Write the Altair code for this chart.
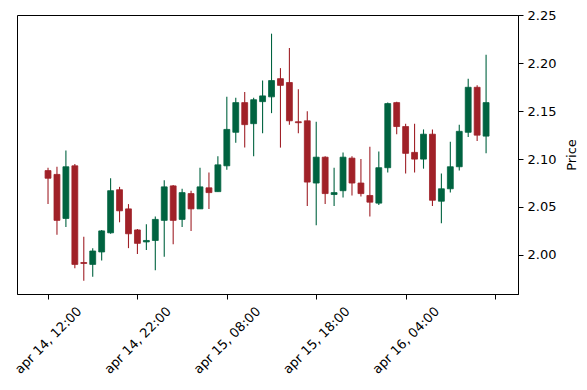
import altair as alt
import pandas as pd

# OHLC values (hourly candles, index 0..49)
opens  = [2.088, 2.084, 2.038, 2.093, 1.992, 1.990, 2.003, 2.023, 2.068, 2.048,
          2.026, 2.0135, 2.015, 2.036, 2.072, 2.037, 2.064, 2.048, 2.070, 2.066,
          2.093, 2.128, 2.159, 2.137, 2.160, 2.165, 2.184, 2.180, 2.139, 2.140,
          2.075, 2.102, 2.063, 2.067, 2.101, 2.075, 2.062, 2.054, 2.091, 2.159,
          2.134, 2.107, 2.100, 2.126, 2.056, 2.069, 2.092, 2.128, 2.175, 2.124]
highs  = [2.091, 2.092, 2.109, 2.095, 2.019, 2.007, 2.026, 2.080, 2.071, 2.053,
          2.027, 2.032, 2.040, 2.078, 2.073, 2.069, 2.067, 2.091, 2.086, 2.103,
          2.165, 2.164, 2.170, 2.164, 2.182, 2.231, 2.195, 2.216, 2.173, 2.150,
          2.139, 2.103, 2.091, 2.107, 2.103, 2.100, 2.113, 2.108, 2.159, 2.160,
          2.137, 2.137, 2.131, 2.131, 2.085, 2.118, 2.136, 2.184, 2.177, 2.209]
lows   = [2.053, 2.021, 2.029, 1.986, 1.973, 1.977, 1.994, 2.022, 2.034, 2.007,
          2.001, 2.005, 1.984, 1.998, 2.011, 2.029, 2.025, 2.048, 2.048, 2.066,
          2.089, 2.117, 2.112, 2.103, 2.127, 2.148, 2.112, 2.136, 2.127, 2.051,
          2.031, 2.053, 2.051, 2.060, 2.062, 2.061, 2.040, 2.052, 2.086, 2.126,
          2.085, 2.086, 2.090, 2.051, 2.033, 2.065, 2.088, 2.123, 2.119, 2.106]
closes = [2.080, 2.036, 2.092, 1.990, 1.991, 2.004, 2.025, 2.067, 2.046, 2.022,
          2.012, 2.015, 2.037, 2.071, 2.036, 2.065, 2.048, 2.071, 2.065, 2.094,
          2.131, 2.159, 2.136, 2.162, 2.166, 2.182, 2.177, 2.140, 2.138, 2.076,
          2.102, 2.064, 2.065, 2.102, 2.075, 2.064, 2.055, 2.091, 2.158, 2.134,
          2.106, 2.100, 2.126, 2.057, 2.069, 2.092, 2.129, 2.175, 2.125, 2.159]

tick_positions = [0, 10, 20, 30, 40, 50]
tick_labels = ["apr 14, 12:00", "apr 14, 22:00", "apr 15, 08:00",
               "apr 15, 18:00", "apr 16, 04:00", ""]
price_ticks = [2.00, 2.05, 2.10, 2.15, 2.20, 2.25]

UP, DOWN = "#006340", "#a02128"

df = pd.DataFrame({
    "i": list(range(len(opens))),
    "open": opens, "high": highs, "low": lows, "close": closes,
})
df["dir"] = ["up" if c >= o else "down" for o, c in zip(opens, closes)]

xscale = alt.Scale(domain=[-3.47, 52.57], nice=False, zero=False)
yscale = alt.Scale(domain=[1.9591, 2.2505], nice=False, zero=False)
cscale = alt.Scale(domain=["up", "down"], range=[UP, DOWN])

label_expr = "[" + ",".join(f"'{l}'" for l in tick_labels) + "][round(datum.value/10)]"

FONT = "DejaVu Sans"

x_axis = alt.Axis(values=tick_positions, labelExpr=label_expr, title=None, grid=False,
                  labelAngle=315, labelAlign="center", labelBaseline="middle",
                  labelPadding=41, tickSize=5, labelFlush=False, labelOverlap=False,
                  labelFontSize=13, labelFont=FONT, labelColor="black",
                  tickColor="black", domainColor="black")
y_axis = alt.Axis(orient="right", values=price_ticks, format=".2f", grid=False,
                  tickSize=5, labelPadding=4, labelFontSize=13, labelFont=FONT,
                  labelColor="black", tickColor="black", domainColor="black",
                  title="Price", titleFont=FONT, titleFontSize=13, titleFontWeight="normal",
                  titleColor="black", titleAngle=270, titleAlign="center",
                  titleBaseline="middle", titleX=53, titleY=139.5)

base = alt.Chart(df)

wick = base.mark_rule(strokeWidth=1.1).encode(
    x=alt.X("i:Q", scale=xscale, axis=x_axis),
    y=alt.Y("low:Q", scale=yscale, axis=y_axis),
    y2="high:Q",
    color=alt.Color("dir:N", scale=cscale, legend=None),
)

body = base.transform_calculate(
    x0="datum.i - 0.33", x1="datum.i + 0.33",
    lo="min(datum.open, datum.close)", hi="max(datum.open, datum.close)",
).mark_bar(strokeWidth=0.8, opacity=1).encode(
    x=alt.X("x0:Q", scale=xscale, axis=x_axis),
    x2="x1:Q",
    y=alt.Y("lo:Q", scale=yscale, axis=y_axis),
    y2="hi:Q",
    color=alt.Color("dir:N", scale=cscale, legend=None),
    stroke=alt.Stroke("dir:N", scale=cscale, legend=None),
)

chart = alt.layer(wick, body).properties(
    width=501, height=279,
    padding={"left": 9, "top": 7, "right": 60, "bottom": 96},
    autosize="none",
    background="white",
).configure_view(stroke="black", strokeWidth=1)

chart.save("out.html", embed_options={"renderer": "svg", "actions": False})
